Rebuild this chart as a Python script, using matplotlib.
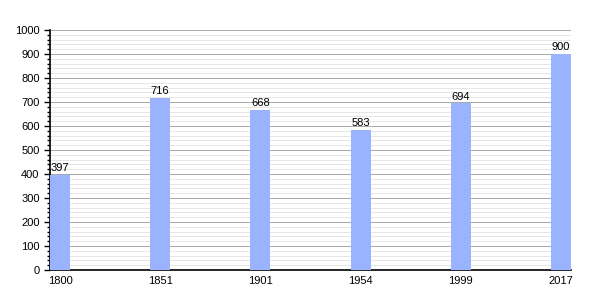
import matplotlib.pyplot as plt
import numpy as np
from matplotlib.ticker import MultipleLocator

plt.rcParams['font.family'] = ['Liberation Sans', 'DejaVu Sans']

years = ['1800', '1851', '1901', '1954', '1999', '2017']
population = [397, 716, 668, 583, 694, 900]

fig = plt.figure(figsize=(6, 3), dpi=100)
ax = fig.add_axes([50/600, 30/300, 521/600, 240/300])

x = np.arange(len(years))
ax.bar(x, population, width=0.2, align='edge', color='#99b3ff', zorder=3)

for xi, v in zip(x, population):
    ax.text(xi + 0.1, v + 7, str(v), ha='center', va='bottom', fontsize=8)

ax.set_xlim(0, 5.2)
ax.set_ylim(0, 1000)
ax.set_xticks(x + 0.1)
ax.set_xticklabels(years, fontsize=8)
ax.yaxis.set_major_locator(MultipleLocator(100))
ax.yaxis.set_minor_locator(MultipleLocator(20))
ax.tick_params(axis='y', labelsize=8, length=4, width=1)
ax.tick_params(axis='y', which='minor', length=2.5, width=1)
ax.tick_params(axis='x', length=0, pad=4)

ax.grid(axis='y', which='major', color='#a8a8a8', linewidth=0.7, zorder=0)
ax.grid(axis='y', which='minor', color='#e6e6e6', linewidth=0.7, zorder=0)
ax.set_axisbelow(True)

for s in ['top', 'right']:
    ax.spines[s].set_visible(False)
ax.spines['left'].set_linewidth(1.2)
ax.spines['bottom'].set_linewidth(1.2)

fig.savefig('out.png', dpi=100)
